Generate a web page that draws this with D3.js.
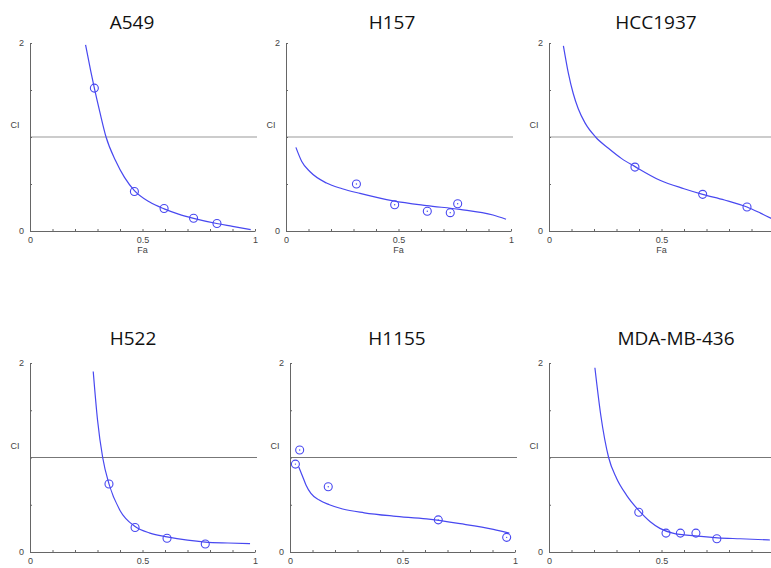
<!DOCTYPE html>
<html>
<head>
<meta charset="utf-8">
<script src="https://cdn.jsdelivr.net/npm/d3@7"></script>
<style>
  body { margin: 0; background: #fff; }
  .tick text { font-family: "Liberation Sans", Arial, sans-serif; font-size: 9px; fill: #444; }
  .lbl { font-family: "Liberation Sans", Arial, sans-serif; font-size: 9px; fill: #444; }
  .title { font-family: "Open Sans", sans-serif; font-size: 19px; fill: #111; }
</style>
</head>
<body>
<div id="chart"></div>
<script>
// cell line names
const lines = ["A549", "H157", "HCC1937", "H522", "H1155", "MDA-MB-436"];

// fitted CI curves (Fa, CI)
const a549CurveFa = [0.247, 0.27, 0.286, 0.31, 0.338, 0.38, 0.42, 0.464, 0.53, 0.596, 0.66, 0.727, 0.83, 0.9, 0.981];
const a549CurveCi = [1.98, 1.70, 1.52, 1.27, 1.0, 0.75, 0.57, 0.43, 0.31, 0.235, 0.18, 0.135, 0.08, 0.05, 0.015];
const h157CurveFa = [0.044, 0.07, 0.107, 0.18, 0.25, 0.329, 0.477, 0.625, 0.773, 0.92, 0.978];
const h157CurveCi = [0.89, 0.74, 0.63, 0.51, 0.45, 0.40, 0.32, 0.27, 0.23, 0.17, 0.125];
const hccCurveFa = [0.064, 0.086, 0.108, 0.13, 0.16, 0.207, 0.264, 0.323, 0.379, 0.493, 0.6, 0.683, 0.78, 0.88, 0.94, 1.0];
const hccCurveCi = [1.97, 1.68, 1.46, 1.30, 1.15, 1.0, 0.88, 0.77, 0.69, 0.54, 0.45, 0.39, 0.33, 0.255, 0.19, 0.12];
const h522CurveFa = [0.281, 0.3, 0.323, 0.351, 0.4, 0.467, 0.533, 0.609, 0.7, 0.779, 0.88, 0.978];
const h522CurveCi = [1.91, 1.40, 1.0, 0.72, 0.44, 0.27, 0.2, 0.16, 0.125, 0.105, 0.095, 0.088];
const h1155CurveFa = [0.039, 0.056, 0.071, 0.093, 0.13, 0.175, 0.234, 0.33, 0.459, 0.607, 0.756, 0.904, 0.975];
const h1155CurveCi = [0.90, 0.80, 0.71, 0.62, 0.55, 0.50, 0.455, 0.415, 0.38, 0.35, 0.30, 0.24, 0.20];
const mdaCurveFa = [0.204, 0.23, 0.265, 0.3, 0.345, 0.399, 0.45, 0.493, 0.55, 0.65, 0.75, 0.85, 0.982];
const mdaCurveCi = [1.95, 1.45, 1.0, 0.78, 0.6, 0.44, 0.32, 0.25, 0.2, 0.17, 0.15, 0.14, 0.127];

// measured points (Fa, CI)
const a549PtFa = [0.286, 0.464, 0.596, 0.727, 0.831];
const a549PtCi = [1.52, 0.42, 0.24, 0.135, 0.08];
const h157PtFa = [0.313, 0.483, 0.628, 0.730, 0.763];
const h157PtCi = [0.50, 0.28, 0.21, 0.195, 0.29];
const hccPtFa = [0.382, 0.683, 0.88];
const hccPtCi = [0.68, 0.39, 0.255];
const h522PtFa = [0.351, 0.467, 0.609, 0.779];
const h522PtCi = [0.72, 0.26, 0.145, 0.085];
const h1155PtFa = [0.024, 0.043, 0.17, 0.659, 0.963];
const h1155PtCi = [0.93, 1.08, 0.69, 0.34, 0.155];
const mdaPtFa = [0.399, 0.52, 0.584, 0.653, 0.746];
const mdaPtCi = [0.42, 0.20, 0.20, 0.20, 0.14];

const xTicks = d3.range(0, 1.0001, 0.1);
const yTicks = [0, 0.5, 1, 1.5, 2];
const xLabels = [0, 0.5, 1];
const yLabels = [0, 2];

const zip = (a, b) => a.map((v, i) => [v, b[i]]);

const panels = [
  { name: lines[0], curve: zip(a549CurveFa, a549CurveCi), pts: zip(a549PtFa, a549PtCi), dot: false, x0: 30, top: 43, bottom: 231, tx: 132, ty: 29, ref: "#999" },
  { name: lines[1], curve: zip(h157CurveFa, h157CurveCi), pts: zip(h157PtFa, h157PtCi), dot: true, x0: 286, top: 43, bottom: 231, tx: 392, ty: 29, ref: "#999" },
  { name: lines[2], curve: zip(hccCurveFa, hccCurveCi), pts: zip(hccPtFa, hccPtCi), dot: false, x0: 549, top: 43, bottom: 231, tx: 656, ty: 29, ref: "#999" },
  { name: lines[3], curve: zip(h522CurveFa, h522CurveCi), pts: zip(h522PtFa, h522PtCi), dot: false, x0: 30, top: 363, bottom: 552, tx: 133, ty: 345, ref: "#777" },
  { name: lines[4], curve: zip(h1155CurveFa, h1155CurveCi), pts: zip(h1155PtFa, h1155PtCi), dot: true, x0: 290, top: 363, bottom: 552, tx: 397, ty: 345, ref: "#777" },
  { name: lines[5], curve: zip(mdaCurveFa, mdaCurveCi), pts: zip(mdaPtFa, mdaPtCi), dot: false, x0: 549, top: 363, bottom: 552, tx: 676, ty: 345, ref: "#777" }
];

const width = 771, height = 568;
const blue = "#4848f0";

const svg = d3.select("#chart").append("svg")
    .attr("width", width).attr("height", height);

panels.forEach(p => {
    const x = d3.scaleLinear().domain([0, 1]).range([p.x0, p.x0 + 225]);
    const y = d3.scaleLinear().domain([0, 2]).range([p.bottom, p.top]);
    const g = svg.append("g");

    // reference line CI = 1
    g.append("line")
        .attr("x1", x(0)).attr("x2", x(1) + 2)
        .attr("y1", y(1)).attr("y2", y(1))
        .attr("stroke", p.ref).attr("stroke-width", 1.2);

    // labels past the right edge of the page are not drawn
    const xAxis = g.append("g")
        .attr("transform", `translate(0,${y(0)})`)
        .call(d3.axisBottom(x).tickValues(xTicks).tickSizeInner(-2).tickSizeOuter(0)
            .tickPadding(6)
            .tickFormat(d => xLabels.some(v => Math.abs(v - d) < 1e-6) && x(d) < width - 4 ? d3.format("~g")(d) : ""));
    xAxis.select(".domain").attr("stroke", "#666");
    xAxis.selectAll(".tick line").attr("stroke", "#666");

    const yAxis = g.append("g")
        .attr("transform", `translate(${x(0)},0)`)
        .call(d3.axisLeft(y).tickValues(yTicks).tickSizeInner(-2).tickSizeOuter(0)
            .tickPadding(6)
            .tickFormat(d => yLabels.includes(d) ? d : ""));
    yAxis.select(".domain").attr("stroke", "#666");
    yAxis.selectAll(".tick line").attr("stroke", "#666");

    g.append("text").attr("class", "lbl")
        .attr("x", x(0) - 15).attr("y", y(1) - 9)
        .attr("text-anchor", "middle").text("CI");

    g.append("text").attr("class", "lbl")
        .attr("x", x(0.5)).attr("y", y(0) + 22)
        .attr("text-anchor", "middle").text("Fa");

    g.append("text").attr("class", "title")
        .attr("x", p.tx).attr("y", p.ty)
        .attr("text-anchor", "middle").text(p.name);

    const line = d3.line()
        .x(d => x(d[0])).y(d => y(d[1]))
        .curve(d3.curveMonotoneX);

    g.append("path")
        .attr("d", line(p.curve))
        .attr("fill", "none").attr("stroke", blue).attr("stroke-width", 1.2);

    g.selectAll("circle.pt")
        .data(p.pts)
        .enter().append("circle")
        .attr("class", "pt")
        .attr("cx", d => x(d[0])).attr("cy", d => y(d[1]))
        .attr("r", 4)
        .attr("fill", "none").attr("stroke", blue).attr("stroke-width", 1.1);

    if (p.dot) {
        g.selectAll("circle.dot")
            .data(p.pts)
            .enter().append("circle")
            .attr("class", "dot")
            .attr("cx", d => x(d[0])).attr("cy", d => y(d[1]))
            .attr("r", 0.7)
            .attr("fill", blue);
    }
});
</script>
</body>
</html>
